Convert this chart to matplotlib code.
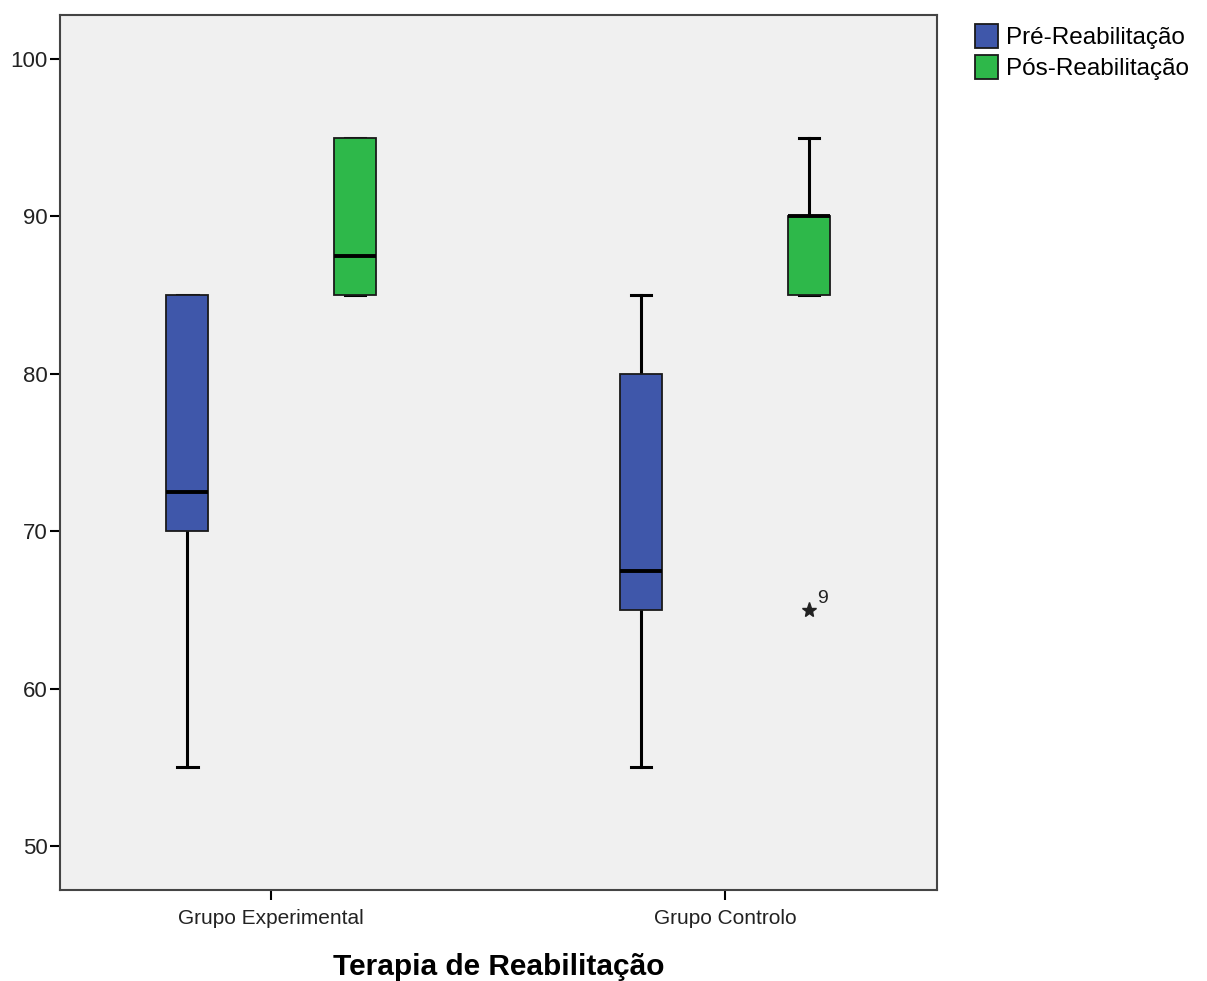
import numpy as np
import matplotlib.pyplot as plt
from matplotlib.patches import Patch

plt.rcParams['font.family'] = ['Liberation Sans', 'DejaVu Sans']

groups = ['Grupo Experimental', 'Grupo Controlo']
series = ['Pré-Reabilitação', 'Pós-Reabilitação']
colors = ['#3F57AA', '#2EB84A']

# per group: [pre, post]
q1 = [[70, 85], [65, 85]]
med = [[72.5, 87.5], [67.5, 90]]
q3 = [[85, 95], [80, 90]]
wlo = [[55, 85], [55, 85]]
whi = [[85, 95], [85, 95]]
outliers = [[[], []], [[], [65]]]
outlier_ids = [[[], []], [[], ['9']]]

fig = plt.figure(figsize=(12.07, 9.81), dpi=100)
ax = fig.add_axes([0.0497, 0.0928, 0.7266, 0.8919])
ax.set_facecolor('#F0F0F0')

offset = 0.185
for g in range(len(groups)):
    for s in range(len(series)):
        pos = g + 1 + (2 * s - 1) * offset
        st = dict(med=med[g][s], q1=q1[g][s], q3=q3[g][s],
                  whislo=wlo[g][s], whishi=whi[g][s], fliers=[])
        ax.bxp([st], positions=[pos], widths=0.0925, capwidths=0.046,
               patch_artist=True, showfliers=False,
               boxprops=dict(facecolor=colors[s], edgecolor='#1a1a1a', linewidth=1.3, zorder=3),
               medianprops=dict(color='black', linewidth=2.8, zorder=4),
               whiskerprops=dict(color='black', linewidth=2.2, zorder=2),
               capprops=dict(color='black', linewidth=2.2, zorder=2))
        for v, lab in zip(outliers[g][s], outlier_ids[g][s]):
            ax.plot(pos, v, marker='*', color='#222222', markersize=11, zorder=4)
            ax.annotate(lab, (pos, v), xytext=(6, 5), textcoords='offset points',
                        fontsize=14, color='#222222')

ax.set_xlim(0.535, 2.467)
ax.set_ylim(47.2, 102.8)
ax.set_xticks([1, 2])
ax.set_xticklabels(groups, fontsize=15)
ax.set_yticks([50, 60, 70, 80, 90, 100])
ax.tick_params(axis='y', direction='out', length=7, width=1.5, labelsize=16, pad=2,
               labelcolor='#222222')
ax.tick_params(axis='x', direction='out', length=7, width=1.5, pad=7,
               labelcolor='#222222')
for sp in ax.spines.values():
    sp.set_color('#444444')
    sp.set_linewidth(1.5)
ax.set_xlabel('Terapia de Reabilitação', fontsize=21.5, fontweight='bold', labelpad=18)

handles = [Patch(facecolor=c, edgecolor='#1a1a1a', linewidth=1.3, label=l)
           for c, l in zip(colors, series)]
fig.legend(handles=handles, loc='upper left', bbox_to_anchor=(0.800, 0.985),
           frameon=False, fontsize=17.5, handlelength=0.95, handleheight=1.1,
           handletextpad=0.3, labelspacing=0.25, borderaxespad=0)

fig.savefig('out.png', dpi=100)
